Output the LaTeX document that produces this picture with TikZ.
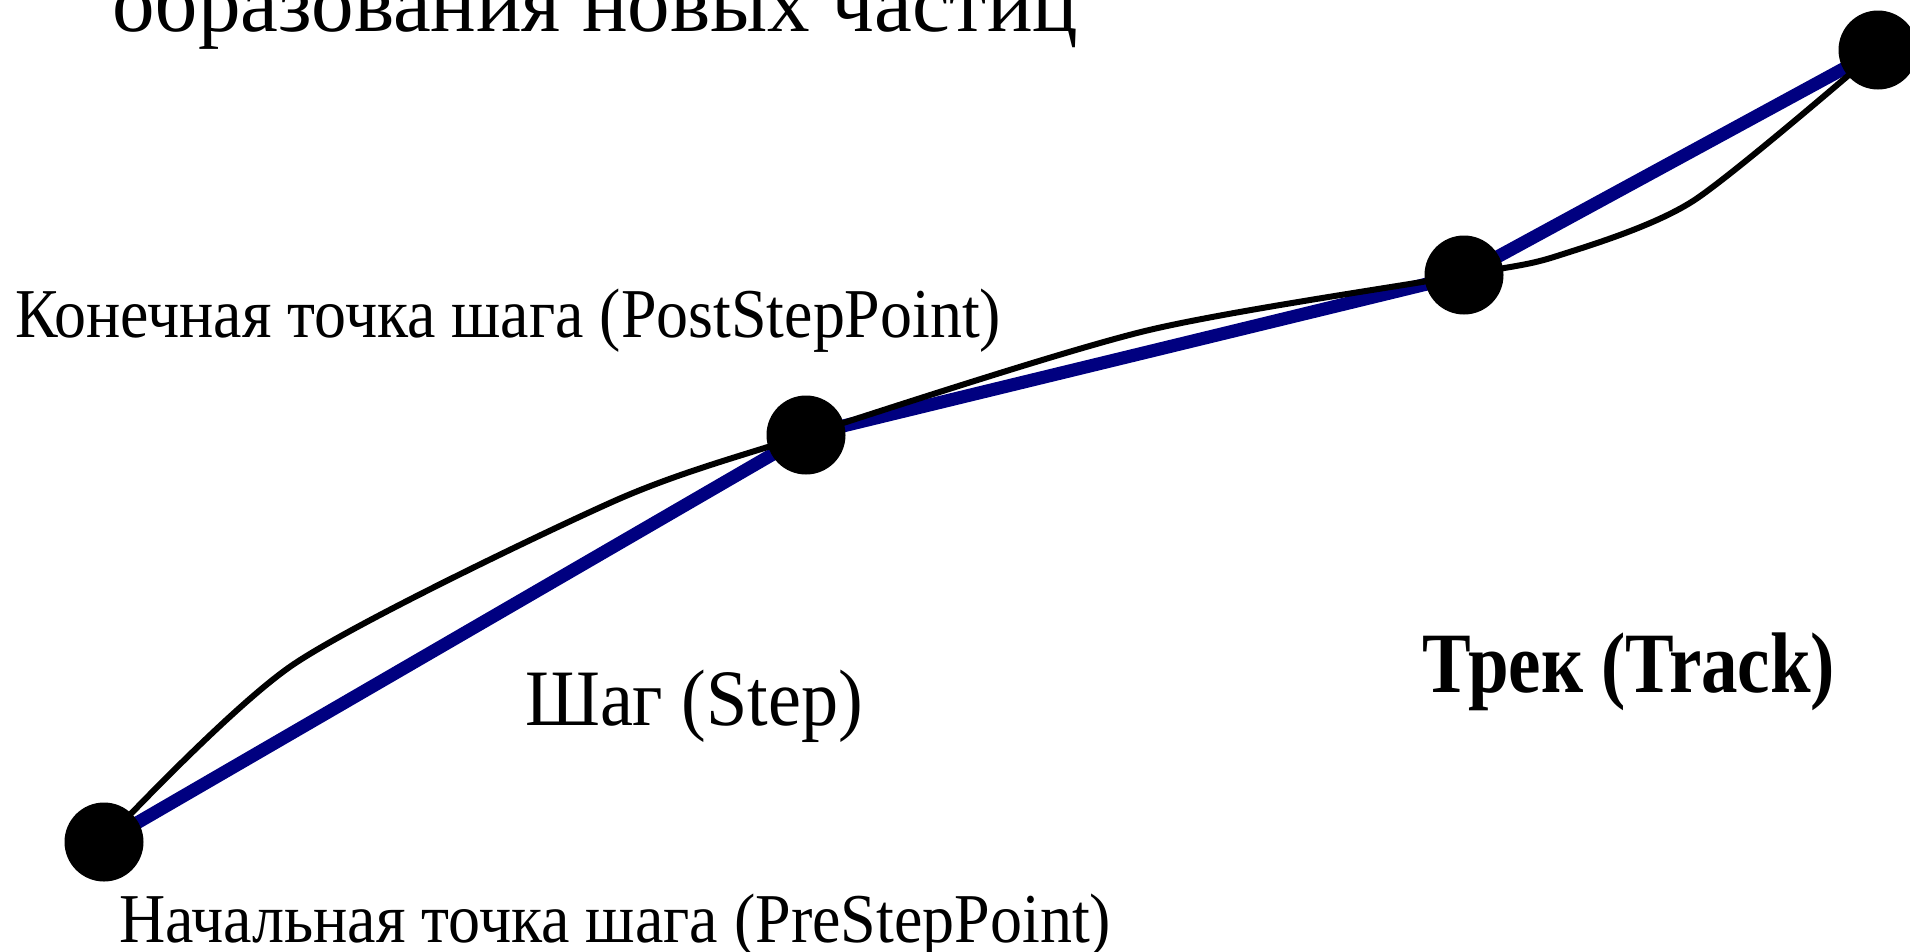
\documentclass[tikz,border=0pt]{standalone}
\usepackage{fontspec}
\setmainfont{Liberation Serif}
\usepackage{graphicx}
\definecolor{trackblue}{RGB}{0,0,128}
\begin{document}
\begin{tikzpicture}[x=1pt,y=-1pt,
  dot/.style={circle,fill=black,inner sep=0pt,minimum size=79pt},
  stepline/.style={trackblue,line width=13pt},
  realpath/.style={black,line width=6pt,line join=round},
  lbl/.style={inner sep=0pt,anchor=base west}]
\useasboundingbox (0,0) rectangle (1910,951);
% points
\coordinate (A) at (104,842);
\coordinate (B) at (806,435);
\coordinate (C) at (1464,275);
\coordinate (D) at (1878,50);
% intermediate points of the true path
\coordinate (p1) at (294,664);
\coordinate (p2) at (612,502);
\coordinate (p3) at (1145,331);
\coordinate (p4) at (1557,256);
\coordinate (p5) at (1693,201);
% steps
\draw[stepline] (A) -- (B) -- (C) -- (D);
% true trajectory
\draw[realpath] plot[smooth,tension=0.45] coordinates {(A) (p1) (p2) (B) (p3) (C) (p4) (p5) (D)};
% dots
\node[dot] (nA) at (A) {};
\node[dot] (nB) at (B) {};
\node[dot] (nC) at (C) {};
\node[dot] (nD) at (D) {};
% labels
\node[lbl] (ttop) at (112,31) {\fontsize{84}{100}\selectfont\resizebox{966pt}{\height}{образования новых частиц}};
\node[lbl] (tpost) at (15,337) {\fontsize{70}{84}\selectfont\resizebox{986pt}{\height}{Конечная точка шага (PostStepPoint)}};
\node[lbl] (tpre) at (119,942) {\fontsize{70}{84}\selectfont\resizebox{992pt}{\height}{Начальная точка шага (PreStepPoint)}};
\node[lbl] (tstep) at (525,725) {\fontsize{80}{96}\selectfont\resizebox{338pt}{\height}{Шаг (Step)}};
\node[lbl] (ttrack) at (1422,692) {\fontsize{86}{103}\selectfont\bfseries\resizebox{413pt}{\height}{Трек (Track)}};
\end{tikzpicture}
\end{document}
